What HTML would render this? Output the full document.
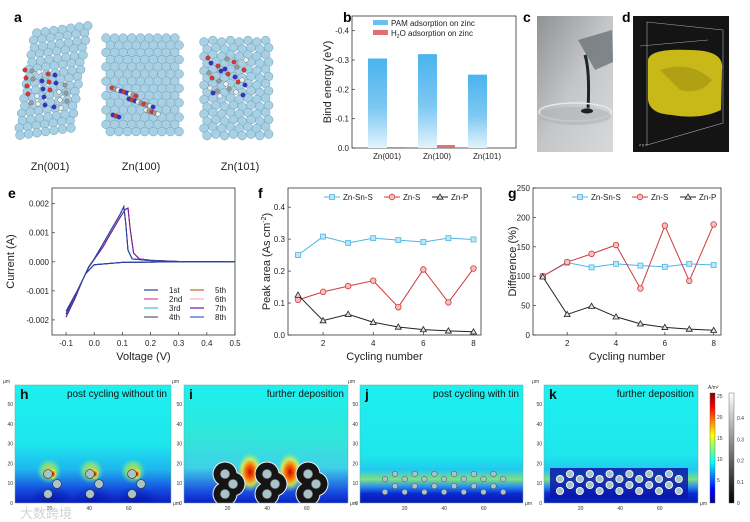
<!DOCTYPE html>
<html><head><meta charset="utf-8">
<style>
html,body{margin:0;padding:0;background:#fff;}
svg{display:block;font-family:"Liberation Sans","Noto Sans CJK SC",sans-serif;}
.pl{font-weight:bold;font-size:14px;}
.tk{font-size:8px;fill:#222;}
.at{font-size:11px;fill:#222;}
.hm{font-size:5px;fill:#333;}
</style></head>
<body>
<svg id="fig" width="750" height="522" viewBox="0 0 750 522">
<defs>
  <linearGradient id="barBlue" x1="0" y1="0" x2="0" y2="1">
    <stop offset="0" stop-color="#4ab3ee"/><stop offset="0.55" stop-color="#7cc8f2"/><stop offset="1" stop-color="#e3f3fc"/>
  </linearGradient>
  <linearGradient id="photo" x1="0" y1="0" x2="1" y2="1">
    <stop offset="0" stop-color="#8f9294"/><stop offset="0.5" stop-color="#c4c6c7"/><stop offset="1" stop-color="#d8d9da"/>
  </linearGradient>
  <linearGradient id="hmBase" x1="0" y1="0" x2="0" y2="1">
    <stop offset="0" stop-color="#1cf0f0"/><stop offset="0.5" stop-color="#1ee6ec"/><stop offset="0.72" stop-color="#1eb4ee"/><stop offset="0.88" stop-color="#1650e0"/><stop offset="1" stop-color="#0a1cc0"/>
  </linearGradient>
  <linearGradient id="hmBaseJ" x1="0" y1="0" x2="0" y2="1">
    <stop offset="0" stop-color="#1cf0f0"/><stop offset="0.6" stop-color="#1ee6ec"/><stop offset="0.72" stop-color="#22c8ee"/><stop offset="0.8" stop-color="#80e080"/><stop offset="0.86" stop-color="#2a90f0"/><stop offset="0.92" stop-color="#0a2ad0"/><stop offset="1" stop-color="#0818b0"/>
  </linearGradient>
  <linearGradient id="hmBaseI" x1="0" y1="0" x2="0" y2="1">
    <stop offset="0" stop-color="#1cf0f0"/><stop offset="0.45" stop-color="#30e6d8"/><stop offset="0.7" stop-color="#40d0e8"/><stop offset="0.9" stop-color="#1a50e0"/><stop offset="1" stop-color="#0a20c8"/>
  </linearGradient>
  <radialGradient id="hot">
    <stop offset="0" stop-color="#c00808"/><stop offset="0.35" stop-color="#ff6a00"/><stop offset="0.65" stop-color="#f0f040" stop-opacity="0.8"/><stop offset="1" stop-color="#60f0a0" stop-opacity="0"/>
  </radialGradient>
  <radialGradient id="warm">
    <stop offset="0" stop-color="#f8d020"/><stop offset="0.6" stop-color="#a0f060" stop-opacity="0.6"/><stop offset="1" stop-color="#40e0c0" stop-opacity="0"/>
  </radialGradient>
  <radialGradient id="darkblob">
    <stop offset="0" stop-color="#0818b0" stop-opacity="0.9"/><stop offset="1" stop-color="#0818b0" stop-opacity="0"/>
  </radialGradient>
  <linearGradient id="jet" x1="0" y1="1" x2="0" y2="0">
    <stop offset="0" stop-color="#00008f"/><stop offset="0.12" stop-color="#0000ff"/><stop offset="0.37" stop-color="#00ffff"/><stop offset="0.62" stop-color="#ffff00"/><stop offset="0.87" stop-color="#ff0000"/><stop offset="1" stop-color="#800000"/>
  </linearGradient>
  <linearGradient id="greyBar" x1="0" y1="1" x2="0" y2="0">
    <stop offset="0" stop-color="#000"/><stop offset="1" stop-color="#fff"/>
  </linearGradient>
  <clipPath id="cH"><rect x="15" y="385" width="156" height="118"/></clipPath>
  <clipPath id="cI"><rect x="184" y="385" width="164" height="118"/></clipPath>
  <clipPath id="cJ"><rect x="360" y="385" width="163" height="118"/></clipPath>
  <clipPath id="cK"><rect x="544" y="385" width="154" height="118"/></clipPath>
</defs>

<text class="pl" x="14" y="22">a</text>
<text class="pl" x="343" y="22">b</text>
<text class="pl" x="523" y="22">c</text>
<text class="pl" x="622" y="22">d</text>
<text class="pl" x="8" y="198">e</text>
<text class="pl" x="258" y="198">f</text>
<text class="pl" x="508" y="198">g</text>

<g id="panelA"></g>
<text class="at" x="50" y="170" text-anchor="middle" font-size="10">Zn(001)</text>
<text class="at" x="141" y="170" text-anchor="middle" font-size="10">Zn(100)</text>
<text class="at" x="240" y="170" text-anchor="middle" font-size="10">Zn(101)</text>

<g id="panelB"></g>

<g>
  <rect x="537" y="16" width="76" height="136" fill="url(#photo)"/>
  <path d="M578 40 L612 30 L613 62 L595 70 Z" fill="#6d7478" opacity="0.8"/>
  <path d="M585 55 Q590 70 588 110" stroke="#202428" stroke-width="3" fill="none"/>
  <ellipse cx="575" cy="112" rx="36" ry="9" fill="none" stroke="#e8e8e8" stroke-width="1.5"/>
  <ellipse cx="575" cy="116" rx="36" ry="9" fill="#b0b3b5" opacity="0.6"/>
  <ellipse cx="587" cy="111" rx="6" ry="2.5" fill="#1d2125"/>
</g>

<g>
  <rect x="633" y="16" width="96" height="136" fill="#141414"/>
  <path d="M647 22 L723 30 L723 123 L647 145 Z" fill="none" stroke="#aaa" stroke-width="0.6"/>
  <path d="M640 46 L708 40" stroke="#aaa" stroke-width="0.6"/>
  <path d="M648 60 Q650 48 690 50 Q725 50 722 70 L721 110 Q700 120 672 115 Q650 114 648 100 Z" fill="#c8b818"/>
  <path d="M660 70 Q690 60 712 80 Q700 95 680 90 Z" fill="#a09010" opacity="0.6"/>
  <text x="639" y="146" font-size="4" fill="#ccc">z y x</text>
</g>

<g id="panelE"></g>
<g id="panelF"></g>
<g id="panelG"></g>

<g id="heat"></g>

<text x="20" y="518" font-size="13" fill="#c8c8c8" opacity="0.8">大数跨境</text>
</svg>

<script>
const NS='http://www.w3.org/2000/svg';
function mk(parent,tag,attrs,txt){const e=document.createElementNS(NS,tag);for(const k in attrs)e.setAttribute(k,attrs[k]);if(txt!==undefined)e.textContent=txt;parent.appendChild(e);return e;}

const bCategories=['Zn(001)','Zn(100)','Zn(101)'];
const bPAM=[-0.305,-0.32,-0.25];
const bH2O=[-0.003,-0.01,0];
const bTicks=[0,-0.1,-0.2,-0.3,-0.4];

const cycles=[1,2,3,4,5,6,7,8];
const fZnSnS=[0.25,0.308,0.288,0.303,0.297,0.291,0.303,0.299];
const fZnS=[0.11,0.135,0.153,0.17,0.087,0.205,0.102,0.208];
const fZnP=[0.125,0.045,0.065,0.04,0.025,0.017,0.013,0.01];
const fTicks=[0,0.1,0.2,0.3,0.4];
const gZnSnS=[100,123,115,121,118,116,121,119];
const gZnS=[100,124,138,153,79,186,92,188];
const gZnP=[99,35,49,31,19,13,10,8];
const gTicks=[0,50,100,150,200,250];
const xCycleTicks=[2,4,6,8];

const cvLoopA_V=[-0.1,-0.07,-0.04,-0.02,0,0.03,0.06,0.09,0.105,0.112,0.12,0.135,0.2,0.3,0.5,0.3,0.1,0.0,-0.03,-0.06,-0.1];
const cvLoopA_I=[-0.0018,-0.0012,-0.0006,-0.00018,0.0001,0.0006,0.0011,0.0016,0.0019,0.0013,0.0004,0.0001,0.00004,0.00001,0,0,-0.00002,-0.0001,-0.0004,-0.001,-0.0017];
const cvLoopB_V=[-0.1,-0.07,-0.04,-0.02,0,0.03,0.06,0.09,0.11,0.12,0.128,0.14,0.16,0.2,0.3,0.5,0.3,0.1,0.0,-0.03,-0.06,-0.1];
const cvLoopB_I=[-0.0019,-0.0013,-0.0006,-0.0002,0.00008,0.0005,0.001,0.0015,0.0018,0.00185,0.0011,0.0003,0.0001,0.00005,0.00001,0,0,-0.00002,-0.0001,-0.0004,-0.001,-0.0018];
const cvCycleNames=['1st','2nd','3rd','4th','5th','6th','7th','8th'];
const cvCycleLoop=['A','B','A','A','B','B','B','A'];
const cvTicksY=[0.002,0.001,0,-0.001,-0.002];
const cvTickLabelsY=['0.002','0.001','0.000','-0.001','-0.002'];
const cvTicksX=[-0.1,0,0.1,0.2,0.3,0.4,0.5];

(function(){
  const g=document.getElementById('panelA');
  function sph(x,y,r,c){mk(g,'circle',{cx:x,cy:y,r:r,fill:c||'#a8d0e4',stroke:'#6f9db6','stroke-width':0.5});}
  for(let row=0;row<15;row++){for(let col=0;col<7;col++){sph(20+col*8.5+(14-row)*1.2-(row%2)*2,33+row*7.3-col*1.2,4.4);}}
  for(let row=0;row<14;row++){for(let col=0;col<9;col++){sph(106+col*8.6+(row%2)*4.3,38+row*7.2,4.4);}}
  for(let row=0;row<14;row++){for(let col=0;col<8;col++){sph(204+col*8.8+(row%2)*3,42+row*7.2-(col%2)*1.5,4.4);}}
  const mols=[[25,70,45,40],[112,88,48,32],[208,58,42,40]];
  const cols=['#d33','#33c','#eee','#999','#d33','#999','#eee','#33c'];
  mols.forEach(m=>{for(let i=0;i<26;i++){const x=m[0]+((i*17)%m[2]);const y=m[1]+((i*11)%m[3]);mk(g,'circle',{cx:x,cy:y,r:2.3,fill:cols[i%8],stroke:'#444','stroke-width':0.3});}});
})();

(function(){
  const g=document.getElementById('panelB');
  const L=352,R=516,T=16,B=148;
  const Y=v=>B-(-v/0.45)*(B-T);
  const groupX=i=>368+i*50;
  mk(g,'rect',{x:L,y:T,width:R-L,height:B-T,fill:'none',stroke:'#333','stroke-width':0.8,});
  bTicks.forEach(t=>{mk(g,'line',{x1:L,x2:L+3,y1:Y(t),y2:Y(t),stroke:'#333','stroke-width':0.7});mk(g,'text',{class:'tk',x:L-3,y:Y(t)+3,'text-anchor':'end'},t===0?'0.0':t.toFixed(1));});
  bCategories.forEach((c,i)=>{
    const b1=mk(g,'rect',{x:groupX(i),y:Y(bPAM[i]),width:19,height:B-Y(bPAM[i]),fill:'url(#barBlue)'});
    
    
    const h=Math.max(B-Y(bH2O[i]),0);
    const b2=mk(g,'rect',{x:groupX(i)+19,y:B-h,width:18,height:h,fill:'#e07070'});
    
    
    mk(g,'text',{class:'tk',x:groupX(i)+19,y:159,'text-anchor':'middle','font-size':'8.5'},c);
  });
  mk(g,'rect',{x:373,y:20,width:15,height:5,fill:'#6cc0f0'});
  mk(g,'rect',{x:373,y:30,width:15,height:5,fill:'#e07070'});
  mk(g,'text',{class:'tk',x:391,y:26},'PAM adsorption on zinc');
  const t=mk(g,'text',{class:'tk',x:391,y:36});
  mk(t,'tspan',{},'H');
  mk(t,'tspan',{'font-size':'5',dy:'2'},'2');
  mk(t,'tspan',{dy:'-2'},'O adsorption on zinc');
  mk(g,'text',{class:'at',x:0,y:0,'text-anchor':'middle','font-size':'10',transform:'translate(331,82) rotate(-90)',},'Bind energy (eV)');
})();

function lineChart(g,opt){
  const {L,R,T,B,xmin,xmax,ymin,ymax}=opt;
  const X=v=>L+(v-xmin)/(xmax-xmin)*(R-L);
  const Y=v=>B-(v-ymin)/(ymax-ymin)*(B-T);
  mk(g,'rect',{x:L,y:T,width:R-L,height:B-T,fill:'none',stroke:'#333','stroke-width':0.8});
  opt.yt.forEach((t,i)=>{mk(g,'line',{x1:L,x2:L+3,y1:Y(t),y2:Y(t),stroke:'#333','stroke-width':0.7});mk(g,'text',{class:'tk',x:L-3,y:Y(t)+3,'text-anchor':'end'},opt.ytl?opt.ytl[i]:String(t));});
  opt.xt.forEach((t,i)=>{mk(g,'line',{x1:X(t),x2:X(t),y1:B,y2:B-3,stroke:'#333','stroke-width':0.7});mk(g,'text',{class:'tk',x:X(t),y:B+11,'text-anchor':'middle'},opt.xtl?opt.xtl[i]:String(t));});
  mk(g,'text',{class:'at',x:(L+R)/2,y:B+25,'text-anchor':'middle'},opt.xlab);
  const yt=mk(g,'text',{class:'at',x:0,y:0,'text-anchor':'middle',transform:'translate('+opt.ylx+','+((T+B)/2)+') rotate(-90)'});
  mk(yt,'tspan',{},opt.ylab);
  if(opt.ysup){mk(yt,'tspan',{'font-size':'7',dy:'-4'},opt.ysup);mk(yt,'tspan',{dy:'4'},opt.yend);}
  return {X,Y};
}
function marker(g,type,x,y,c,f){
  if(type==='s')return mk(g,'rect',{x:x-2.5,y:y-2.5,width:5,height:5,fill:f,stroke:c,'stroke-width':0.8});
  if(type==='c')return mk(g,'circle',{cx:x,cy:y,r:2.8,fill:f,stroke:c,'stroke-width':0.8});
  return mk(g,'path',{d:'M'+x+' '+(y-3)+'L'+(x+3)+' '+(y+2.2)+'L'+(x-3)+' '+(y+2.2)+'Z',fill:f,stroke:c,'stroke-width':0.8});
}
function series(g,sc,xs,ys,c,f,type,name){
  const d=xs.map((x,i)=>(i?'L':'M')+sc.X(x)+' '+sc.Y(ys[i])).join('');
  const p=mk(g,'path',{d:d,fill:'none',stroke:c,'stroke-width':1});
  
  
  xs.forEach((x,i)=>{const m=marker(g,type,sc.X(x),sc.Y(ys[i]),c,f);
    
    });
}
function legend3(g,x0,y){
  const items=[['Zn-Sn-S','#4db6e2','#bfe6f6','s',0],['Zn-S','#d0393a','#f6c0c0','c',60],['Zn-P','#222','#ddd','t',108]];
  items.forEach(it=>{const x=x0+it[4];mk(g,'line',{x1:x,x2:x+16,y1:y,y2:y,stroke:it[1],'stroke-width':1});marker(g,it[3],x+8,y,it[1],it[2]);mk(g,'text',{class:'tk',x:x+19,y:y+3},it[0]);});
}

(function(){
  const g=document.getElementById('panelE');
  const sc=lineChart(g,{L:52,R:235,T:188,B:335,xmin:-0.15,xmax:0.5,ymin:-0.00252,ymax:0.00254,yt:cvTicksY,ytl:cvTickLabelsY,xt:cvTicksX,xtl:['-0.1','0.0','0.1','0.2','0.3','0.4','0.5'],xlab:'Voltage (V)',ylab:'Current (A)',ylx:14});
  const colors=['#2a3f9e','#e0449c','#3ec0d2','#5a5888','#c8641e','#f2b4c4','#6a1aa0','#3364c4'];
  const order=[4,5,1,6,2,3,7,0];
  order.forEach(i=>{
    const vs=cvCycleLoop[i]==='A'?cvLoopA_V:cvLoopB_V;
    const is=cvCycleLoop[i]==='A'?cvLoopA_I:cvLoopB_I;
    const d=vs.map((v,k)=>(k?'L':'M')+sc.X(v).toFixed(1)+' '+sc.Y(is[k]).toFixed(1)).join('');
    const p=mk(g,'path',{d:d,fill:'none',stroke:colors[i],'stroke-width':1});
    
    
  });
  cvCycleNames.forEach((n,i)=>{
    const col=i<4?0:1, row=i%4;
    const x=144+col*46, y=290+row*9;
    mk(g,'line',{x1:x,x2:x+14,y1:y,y2:y,stroke:colors[i],'stroke-width':1.2});
    mk(g,'text',{class:'tk',x:x+25,y:y+3},n);
  });
})();

(function(){
  const g=document.getElementById('panelF');
  const sc=lineChart(g,{L:288,R:481,T:188,B:335,xmin:0.6,xmax:8.3,ymin:0,ymax:0.46,yt:fTicks,ytl:['0.0','0.1','0.2','0.3','0.4'],xt:xCycleTicks,xlab:'Cycling number',ylab:'Peak area (As cm',ysup:'-2',yend:')',ylx:270});
  series(g,sc,cycles,fZnSnS,'#4db6e2','#bfe6f6','s','f-zn-sn-s');
  series(g,sc,cycles,fZnS,'#d0393a','#f6c0c0','c','f-zn-s');
  series(g,sc,cycles,fZnP,'#222','#ddd','t','f-zn-p');
  legend3(g,324,197);
})();

(function(){
  const g=document.getElementById('panelG');
  const sc=lineChart(g,{L:533,R:721,T:188,B:335,xmin:0.6,xmax:8.3,ymin:0,ymax:250,yt:gTicks,xt:xCycleTicks,xlab:'Cycling number',ylab:'Difference (%)',ylx:516});
  series(g,sc,cycles,gZnSnS,'#4db6e2','#bfe6f6','s','g-zn-sn-s');
  series(g,sc,cycles,gZnS,'#d0393a','#f6c0c0','c','g-zn-s');
  series(g,sc,cycles,gZnP,'#222','#ddd','t','g-zn-p');
  legend3(g,572,197);
})();

(function(){
  const g=document.getElementById('heat');
  const panels=[
    {id:'h',x:15,w:156,x0:10,clip:'cH',title:'post cycling without tin'},
    {id:'i',x:184,w:164,x0:188,clip:'cI',title:'further deposition'},
    {id:'j',x:360,w:163,x0:365,clip:'cJ',title:'post cycling with tin'},
    {id:'k',x:544,w:154,x0:541,clip:'cK',title:'further deposition'}];
  const T=385,B=503;
  panels.forEach(p=>{
    const pg=mk(g,'g',{'clip-path':'url(#'+p.clip+')'});
    
    
    const base=p.id==='i'?'url(#hmBaseI)':(p.id==='h'?'url(#hmBase)':'url(#hmBaseJ)');
    mk(pg,'rect',{x:p.x,y:T,width:p.w,height:B-T,fill:base});
    const circ=(cx,cy,r,stroke,sw)=>{
      mk(pg,'circle',{cx:cx,cy:cy,r:r,fill:'#a9c3c9',stroke:stroke||'#333','stroke-width':sw||0.6});
    };
    if(p.id==='h'){
      [48,90,132].forEach(cx=>{
        mk(pg,'ellipse',{cx:cx+1,cy:471,rx:13,ry:13,fill:'url(#warm)'});
        mk(pg,'ellipse',{cx:cx+5,cy:474,rx:4,ry:6,fill:'url(#hot)'});
        mk(pg,'ellipse',{cx:cx+4,cy:500,rx:22,ry:14,fill:'url(#darkblob)'});
        circ(cx,474,4.4);circ(cx+9,484,4.4);circ(cx,494,4.4);
      });
    } else if(p.id==='i'){
      mk(pg,'ellipse',{cx:250,cy:472,rx:13,ry:20,fill:'url(#hot)'});
      mk(pg,'ellipse',{cx:290,cy:472,rx:13,ry:20,fill:'url(#hot)'});
      [225,267,308].forEach(cx=>{
        const pts=[[0,474],[8,484],[0,494]];
        pts.forEach(o=>mk(pg,'circle',{cx:cx+o[0],cy:o[1],r:12.5,fill:'#f4f4f4'}));
        pts.forEach(o=>mk(pg,'circle',{cx:cx+o[0],cy:o[1],r:11.5,fill:'#151515'}));
        pts.forEach(o=>circ(cx+o[0],o[1],4.6,'#777'));
      });
    } else if(p.id==='j'){
      const rowsY=[474,479,486,492];
      for(let r=0;r<4;r++){const start=(r%2)?385:395;const n=(r%2)?7:6;
        for(let c=0;c<n;c++){circ(start+c*19.7,rowsY[r],2.8,'#446',0.5);}}
    } else {
      mk(pg,'rect',{x:550,y:468,width:138,height:30,fill:'#0a18a8',opacity:0.85});
      const rowsY=[474,479,485,491];
      for(let r=0;r<4;r++){const start=(r%2)?560:570;const n=(r%2)?7:6;
        for(let c=0;c<n;c++){circ(start+c*19.8,rowsY[r],3.6,'#fff',0.9);}}
    }
    mk(g,'rect',{x:p.x,y:T,width:p.w,height:B-T,fill:'none',stroke:'#7a9','stroke-width':0.5});
    [0,10,20,30,40,50].forEach(v=>{mk(g,'text',{class:'hm',x:p.x-2,y:503-v*1.98+2,'text-anchor':'end'},String(v));});
    mk(g,'text',{class:'hm',x:p.x-12,y:T-2},'μm');
    [20,40,60].forEach(v=>{mk(g,'text',{class:'hm',x:p.x0+v*1.98,y:B+7,'text-anchor':'middle'},String(v));});
    mk(g,'text',{class:'hm',x:p.x+p.w+2,y:B+2},'μm');
    mk(g,'text',{x:p.x+5,y:T+14,'font-size':'14','font-weight':'bold',fill:'#111'},p.id);
    mk(g,'text',{x:p.x+p.w-4,y:T+12,'font-size':'10','text-anchor':'end',fill:'#111'},p.title);
  });
  mk(g,'rect',{x:710,y:393,width:5,height:110,fill:'url(#jet)',stroke:'#555','stroke-width':0.4,});
  [5,10,15,20,25].forEach(v=>mk(g,'text',{class:'hm',x:717,y:501-v*4.2+2},String(v)));
  mk(g,'text',{class:'hm',x:708,y:389},'A/m²');
  mk(g,'rect',{x:729,y:393,width:5,height:110,fill:'url(#greyBar)',stroke:'#555','stroke-width':0.4,});
  [0,0.1,0.2,0.3,0.4].forEach(v=>mk(g,'text',{class:'hm',x:737,y:503-v*212+2},String(v)));
})();
</script>
</body></html>
